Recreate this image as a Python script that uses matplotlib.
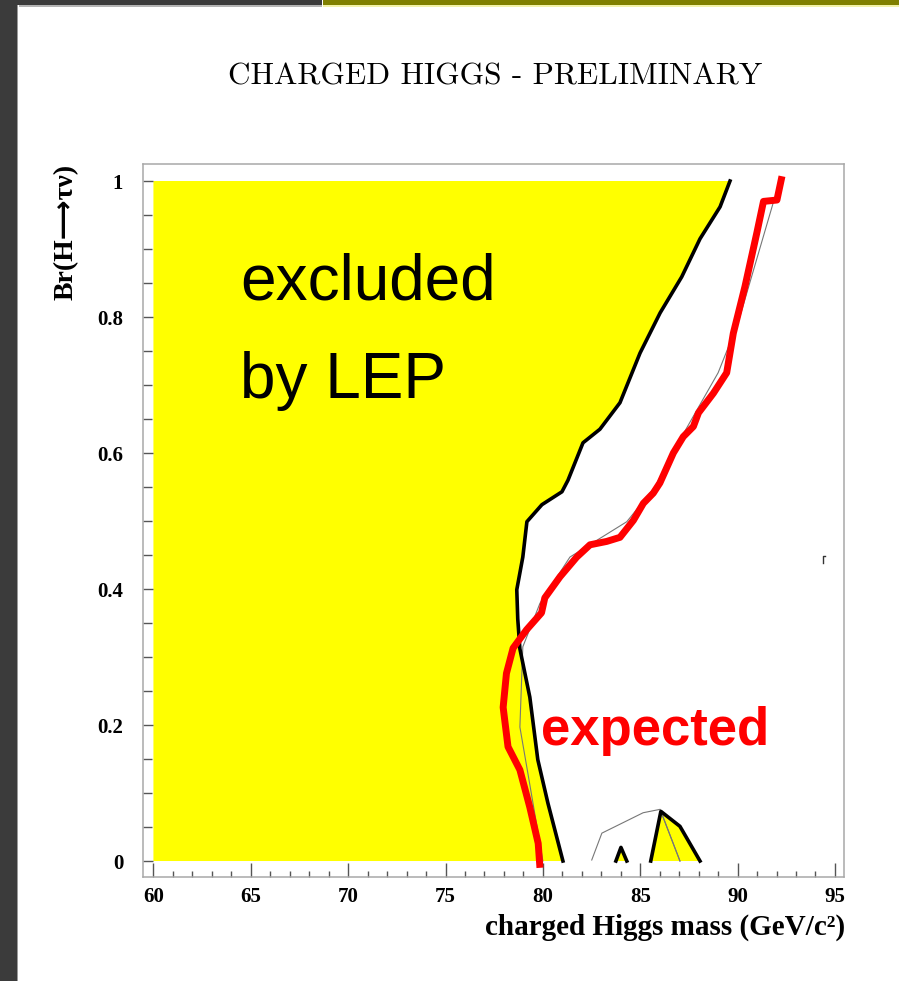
import matplotlib
matplotlib.use("Agg")
import matplotlib.pyplot as plt
from matplotlib.patches import Rectangle
from matplotlib.ticker import MultipleLocator, FormatStrFormatter

# ---------------- data ----------------
# observed exclusion contour (thick black), top to bottom
obs_mass = [89.61, 89.10, 88.07, 87.13, 86.02, 84.99, 83.96, 82.93, 82.06, 81.29,
            80.98, 79.95, 79.18, 78.97, 78.66, 78.71, 78.82, 79.33, 79.74, 80.26, 81.03]
obs_br = [1.0, 0.962, 0.915, 0.859, 0.806, 0.747, 0.674, 0.635, 0.615, 0.560,
          0.543, 0.524, 0.499, 0.447, 0.399, 0.356, 0.312, 0.241, 0.149, 0.085, 0.0]

# expected limit (thick red)
exp_mass = [92.28, 92.02, 91.33, 90.99, 90.38, 89.78, 89.44, 88.76, 87.99, 87.73,
            87.21, 86.70, 86.01, 85.67, 85.16, 84.65, 83.96, 83.28, 82.42, 81.74,
            80.88, 80.10, 79.93, 79.16, 78.47, 78.13, 77.96, 78.21, 78.82, 79.33,
            79.76, 79.85]
exp_br = [1.007, 0.972, 0.970, 0.924, 0.845, 0.776, 0.718, 0.688, 0.659, 0.639,
          0.624, 0.600, 0.556, 0.541, 0.526, 0.501, 0.476, 0.470, 0.465, 0.447,
          0.418, 0.387, 0.365, 0.340, 0.313, 0.276, 0.226, 0.168, 0.134, 0.079,
          0.026, -0.010]

# thin grey contour
thin_mass = [91.83, 90.02, 89.00, 87.25, 85.75, 84.31, 81.39, 79.85, 78.97, 78.82, 79.23, 80.00]
thin_br = [0.968, 0.791, 0.718, 0.630, 0.550, 0.499, 0.447, 0.379, 0.315, 0.197, 0.129, 0.0]

# thin grey island contour near Br=0
island_mass = [82.51, 83.03, 85.15, 86.02, 87.04]
island_br = [0.0015, 0.041, 0.071, 0.076, 0.0]

# small excluded islands near Br=0
caret_mass = [83.75, 84.01, 84.31]
caret_br = [0.0, 0.020, 0.0]
tri_mass = [85.54, 86.06, 87.04, 88.07]
tri_br = [0.0, 0.073, 0.051, 0.0]

# stray mark
mark_mass = [94.39, 94.39, 94.47]
mark_br = [0.438, 0.4485, 0.4485]

xticks_major = [60, 65, 70, 75, 80, 85, 90, 95]
yticks_major = [0, 0.2, 0.4, 0.6, 0.8, 1]
ytick_labels = ["0", "0.2", "0.4", "0.6", "0.8", "1"]

# ---------------- figure ----------------
W, H = 899, 981
fig = plt.figure(figsize=(W / 100, H / 100), dpi=100)
fig.patch.set_facecolor("white")

def px_rect(x0, y0, x1, y1, color):
    fig.patches.append(Rectangle((x0 / W, 1 - y1 / H), (x1 - x0) / W, (y1 - y0) / H,
                                 transform=fig.transFigure, facecolor=color,
                                 edgecolor="none", zorder=0))

# page decoration
px_rect(0, 0, 17, H, "#3b3b3b")
px_rect(0, 0, 322, 4.5, "#3b3b3b")
px_rect(19, 5, 322, 6.5, "#b4b4b4")
px_rect(17, 5, 18, H, "#9a9a9a")
px_rect(323, 0, W, 4.5, "#808000")
px_rect(323, 4.5, W, 6.5, "#f2f2a8")

ax = fig.add_axes([143.3 / W, 1 - 877 / H, (844.3 - 143.3) / W, (877 - 164) / H])
ax.set_xlim(59.48, 95.48)
ax.set_ylim(-0.0235, 1.025)

# yellow excluded region
fill_x = [60] + [60] + obs_mass
fill_y = [0] + [1.0] + obs_br
ax.fill(fill_x, fill_y, color="#ffff00", lw=0, zorder=1)
ax.fill(caret_mass, caret_br, color="#ffff00", lw=0, zorder=1)
ax.fill(tri_mass, tri_br, color="#ffff00", lw=0, zorder=1)

# thin grey lines
ax.plot(thin_mass, thin_br, color="#777777", lw=0.8, zorder=2)
ax.plot(island_mass, island_br, color="#777777", lw=0.8, zorder=2)
ax.plot([tri_mass[1], island_mass[-1]], [tri_br[1], island_br[-1]], color="#777777", lw=0.8, zorder=2)

# black observed contours
ax.plot(obs_mass, obs_br, color="black", lw=2.6, zorder=3, solid_joinstyle="round")
ax.plot(caret_mass, caret_br, color="black", lw=2.6, zorder=3)
ax.plot(tri_mass, tri_br, color="black", lw=2.6, zorder=3)
ax.plot(mark_mass, mark_br, color="#333333", lw=1.0, zorder=3)

# red expected
ax.plot(exp_mass, exp_br, color="#ff0000", lw=5.0, zorder=4,
        solid_joinstyle="round", solid_capstyle="butt")

# spines / ticks
for s in ax.spines.values():
    s.set_color("#a8a8a8")
    s.set_linewidth(1.1)

ax.xaxis.set_minor_locator(MultipleLocator(1))
ax.set_xticks(xticks_major)
ax.set_yticks(yticks_major)
ax.set_yticklabels(ytick_labels)
ax.yaxis.set_minor_locator(MultipleLocator(0.05))
ax.xaxis.set_major_formatter(FormatStrFormatter("%d"))

ax.tick_params(axis="x", which="major", direction="in", length=10, width=1.0,
               color="#555555", pad=7.5, top=False)
ax.tick_params(axis="x", which="minor", direction="in", length=4.5, width=1.0,
               color="#555555", top=False)
ax.tick_params(axis="y", which="major", direction="in", length=7, width=1.0,
               color="#555555", pad=14.5, right=False)
ax.tick_params(axis="y", which="minor", direction="in", length=6.5, width=1.0,
               color="#555555", right=False)
for lab in ax.get_xticklabels() + ax.get_yticklabels():
    lab.set_fontfamily(["Liberation Serif", "DejaVu Serif"])
    lab.set_fontweight("bold")
    lab.set_fontsize(15)

# in-plot texts
fig.text(240 / W, 1 - 300 / H, "excluded", fontsize=46,
         family=["Liberation Sans", "DejaVu Sans"], color="black", va="baseline", ha="left")
fig.text(240 / W, 1 - 398 / H, "by LEP", fontsize=46,
         family=["Liberation Sans", "DejaVu Sans"], color="black", va="baseline", ha="left")
fig.text(541 / W, 1 - 745 / H, "expected", fontsize=38, fontweight="bold",
         family=["Liberation Sans", "DejaVu Sans"], color="#ff0000", va="baseline", ha="left")

# title and axis labels
fig.text(495 / W, 1 - 77 / H, "CHARGED HIGGS - PRELIMINARY", fontsize=22.5,
         family=["cmr10", "DejaVu Serif"], ha="center", va="center", color="black")
fig.text(845 / W, 1 - 935 / H, "charged Higgs mass (GeV/c\u00b2)", fontsize=21,
         fontweight="bold", family=["Liberation Serif", "DejaVu Serif"],
         ha="right", va="baseline")
fig.text(66 / W, 1 - 232 / H, "Br(H\u27f6\u03c4\u03bd)", fontsize=20, rotation=90,
         fontweight="bold", family=["Liberation Serif", "DejaVu Sans"],
         ha="center", va="center")

fig.savefig("out.png", dpi=100, facecolor="white")
